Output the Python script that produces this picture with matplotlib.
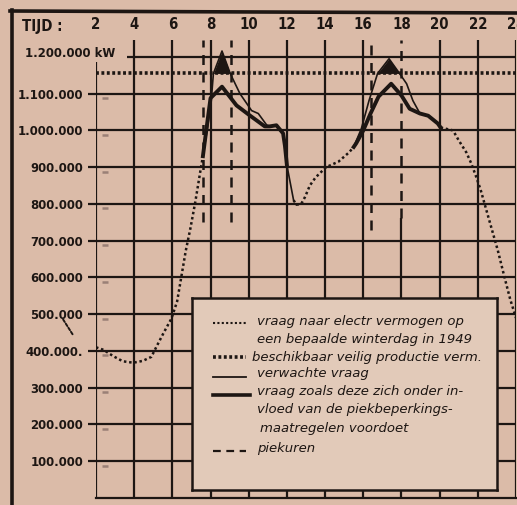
import matplotlib
matplotlib.use("Agg")
import matplotlib.pyplot as plt
from matplotlib import font_manager
from matplotlib.font_manager import FontProperties
from matplotlib.lines import Line2D

W, H = 517, 505
PAPER = "#dbbba8"
BOX = "#e2cab9"
INK = "#1d1613"

# hours along the top, demand ticks on the left
hours = [2, 4, 6, 8, 10, 12, 14, 16, 18, 20, 22, 24]
hour_labels = [str(h) for h in hours]
kw_ticks = [100000, 200000, 300000, 400000, 500000, 600000,
            700000, 800000, 900000, 1000000, 1100000]
kw_labels = ["100.000", "200.000", "300.000", "400.000.", "500.000", "600.000",
             "700.000", "800.000", "900.000", "1.000.000", "1.100.000"]
top_kw = 1200000

# vraag naar electr. vermogen, winterdag 1949 (dotted, gaps where solid lines run)
demand_h = [2.0, 2.4, 2.9, 3.4, 3.95, 4.45, 4.9, 5.2, 5.55, 5.95, 6.25, 6.7, 6.95, 7.2, 7.5, 7.6,
            None,
            12.35, 12.5, 12.75, 12.95, 13.2, 13.5, 14.05, 14.7, 15.25, 15.5,
            None,
            20.05, 20.7, 21.0, 21.4, 21.65, 21.9, 22.15, 22.4, 22.75, 23.05, 23.4, 23.7, 24.0]
demand_kw = [410, 403, 386, 372, 368, 373, 384, 415, 450, 488, 535, 672, 735, 805, 900, 930,
             None,
             810, 798, 800, 819, 850, 872, 900, 915, 940, 955,
             None,
             1008, 1000, 973, 940, 911, 876, 838, 792, 728, 673, 600, 540, 490]

# beschikbaar veilig productie vermogen
capacity_h = [2, 24]
capacity_kw = [1155, 1155]

# verwachte vraag (thin), morning and evening peak
expected_h_am = [7.6, 7.85, 8.05, 8.15, 8.6, 9.03, 9.54, 10.15, 10.5, 10.95, 11.1, 11.45, 11.8, 12.0, 12.35]
expected_kw_am = [930, 1010, 1090, 1155, 1216, 1155, 1100, 1054, 1046, 1014, 1011, 1014, 992, 905, 810]
expected_h_pm = [15.5, 15.9, 16.3, 16.75, 17.35, 17.9, 18.27, 18.6, 18.97]
expected_kw_pm = [955, 1005, 1081, 1155, 1195, 1155, 1127, 1081, 1046]

# vraag onder invloed van de piekbeperkingsmaatregelen (thick)
limited_h_am = [7.6, 7.8, 8.0, 8.6, 9.36, 10.05, 10.84, 11.1, 11.45, 11.8, 11.9, 12.0]
limited_kw_am = [930, 1010, 1088, 1119, 1068, 1041, 1011, 1011, 1014, 992, 957, 905]
limited_h_pm = [15.5, 15.63, 16.0, 16.38, 16.8, 17.46, 18.0, 18.43, 18.97, 19.4, 19.9, 20.05]
limited_kw_pm = [955, 965, 1000, 1046, 1092, 1127, 1095, 1059, 1046, 1040, 1019, 1008]

# piekuren
peak_h = [7.6, 9.05, 16.38, 18.0]
peak_low_kw = [750, 750, 730, 762]

legend_rows = [
    ("vraag naar electr vermogen op", 321),
    ("een bepaalde winterdag in 1949", 339),
    ("beschikbaar veilig productie verm.", 357),
    ("verwachte vraag", 373),
    ("vraag zoals deze zich onder in-", 391),
    ("vloed van de piekbeperkings-", 409),
    ("maatregelen voordoet", 428),
    ("piekuren", 448),
]


def k(values):
    return [float("nan") if v is None else v * 1000 for v in values]


def nan_list(values):
    return [float("nan") if v is None else v for v in values]


def narrow_bold():
    # look for any condensed / narrow bold face, else plain DejaVu bold
    pref = []
    for f in font_manager.fontManager.ttflist:
        wt = f.weight if isinstance(f.weight, int) else {"bold": 700}.get(f.weight, 400)
        if f.style != "normal" or wt < 600:
            continue
        tag = (f.name + " " + str(f.stretch)).lower()
        if "narrow" in tag or "condensed" in tag:
            pref.append(f)
    pref.sort(key=lambda f: (0 if "Liberation" in f.name else 1 if "DejaVu" in f.name else 2))
    if pref:
        return pref[0].fname
    return None


fig = plt.figure(figsize=(W / 100, H / 100), dpi=100, facecolor=PAPER)
fontfile = narrow_bold()


def num_prop(size):
    if fontfile:
        return FontProperties(fname=fontfile, size=size)
    return FontProperties(family="DejaVu Sans", weight="bold", size=size)


# size the numbers so "1.100.000" is about 65 px wide, like the print
probe = fig.text(0, 0, "1.100.000", fontproperties=num_prop(10))
wpx = probe.get_window_extent(fig.canvas.get_renderer()).width
probe.remove()
ysize = min(12.5, 10 * 66 / wpx)
xsize = min(12, ysize * 1.15)

ax = fig.add_axes([96 / W, 7 / H, 420 / W, 458 / H])
ax.set_facecolor(PAPER)
ax.set_xlim(2, 24)
ax.set_ylim(0, 1246000)

# grid
for h in hours:
    if h == 2:
        ax.vlines(h, 0, 1186000, color=INK, lw=1.6)
    elif h == 18:
        ax.vlines(h, 0, 762000, color=INK, lw=1.6)
    else:
        ax.vlines(h, 0, 1246000, color=INK, lw=1.6)
ax.hlines(kw_ticks, 2, 24, color=INK, lw=1.6)
ax.hlines(top_kw, 3.6, 24, color=INK, lw=1.6)
ax.plot([2.45] * len(kw_ticks), [v - 12000 for v in kw_ticks], ls="none",
        marker="_", ms=4, mew=1.8, color="#9a8076")

for s in ["top", "right", "left"]:
    ax.spines[s].set_visible(False)
ax.spines["bottom"].set_linewidth(1.6)
ax.spines["bottom"].set_color(INK)

ax.xaxis.tick_top()
ax.set_xticks(hours, hour_labels)
ax.tick_params(axis="x", length=0, pad=6)
ax.set_yticks(kw_ticks, kw_labels)
ax.tick_params(axis="y", length=5.8, width=1.6, color=INK, pad=3.5)
for t in ax.get_xticklabels():
    t.set_fontproperties(num_prop(xsize))
    t.set_color(INK)
for t in ax.get_yticklabels():
    t.set_fontproperties(num_prop(ysize))
    t.set_color(INK)
ax.text(3.0, top_kw + 10000, "1.200.000 kW", ha="right", va="center",
        fontproperties=num_prop(ysize), color=INK, clip_on=False)
fig.text(22 / W, 1 - 26 / H, "TIJD :", ha="left", va="center",
         fontproperties=num_prop(xsize), color=INK)
ax.annotate("", xy=(0.9, 435000), xytext=(0.2, 492000), annotation_clip=False,
            arrowprops=dict(arrowstyle="-", ls=(0, (1.5, 1)), lw=1.4, color=INK))

# series
ax.plot(nan_list(demand_h), k(demand_kw), color=INK, lw=1.8, ls=(0, (1, 1.1)))
ax.plot(capacity_h, k(capacity_kw), color=INK, lw=2.6, ls=(0, (0.8, 0.7)))
ax.plot(expected_h_am, k(expected_kw_am), color=INK, lw=1.2)
ax.plot(expected_h_pm, k(expected_kw_pm), color=INK, lw=1.2)
ax.plot(limited_h_am, k(limited_kw_am), color=INK, lw=2.8, solid_joinstyle="round")
ax.plot(limited_h_pm, k(limited_kw_pm), color=INK, lw=2.8, solid_joinstyle="round")
for hh, vv in [(expected_h_am, expected_kw_am), (expected_h_pm, expected_kw_pm)]:
    cap = [capacity_kw[0] * 1000] * len(hh)
    vals = k(vv)
    ax.fill_between(hh, vals, cap, where=[a > b for a, b in zip(vals, cap)],
                    interpolate=True, color=INK, lw=0)
for h, low in zip(peak_h, peak_low_kw):
    ax.vlines(h, low * 1000, 1246000, color=INK, lw=1.8, ls=(0, (4, 3)))

# legend box
lg = fig.add_axes([192 / W, 1 - 490 / H, 305 / W, 192 / H])
lg.set_facecolor(BOX)
lg.set_xlim(192, 497)
lg.set_ylim(490, 298)
lg.set_xticks([])
lg.set_yticks([])
for s in lg.spines.values():
    s.set_linewidth(1.8)
    s.set_color(INK)
lg.plot([213, 246], [323, 323], color=INK, lw=1.5, ls=(0, (1, 1.1)))
lg.plot([213, 246], [357, 357], color=INK, lw=2.6, ls=(0, (0.8, 0.7)))
lg.plot([213, 246], [377, 377], color=INK, lw=1.3)
lg.plot([213, 250], [395, 395], color=INK, lw=2.6)
lg.plot([213, 246], [451, 451], color=INK, lw=1.6, ls=(0, (3.5, 2.5)))
for txt, y in legend_rows:
    x = 257
    if txt.startswith("maat"):
        x = 260
    if txt.startswith("besch"):
        x = 252
    lg.text(x, y, txt, ha="left", va="center", fontsize=9.5, style="italic", color=INK)

# scan frame
fig.add_artist(Line2D([10 / W, 1], [1 - 11 / H, 1 - 13 / H], transform=fig.transFigure,
                      lw=2.6, color=INK))
fig.add_artist(Line2D([12 / W, 12 / W], [1 - 10 / H, 0], transform=fig.transFigure,
                      lw=2.6, color=INK))

fig.savefig("out.png", dpi=100, facecolor=PAPER)
